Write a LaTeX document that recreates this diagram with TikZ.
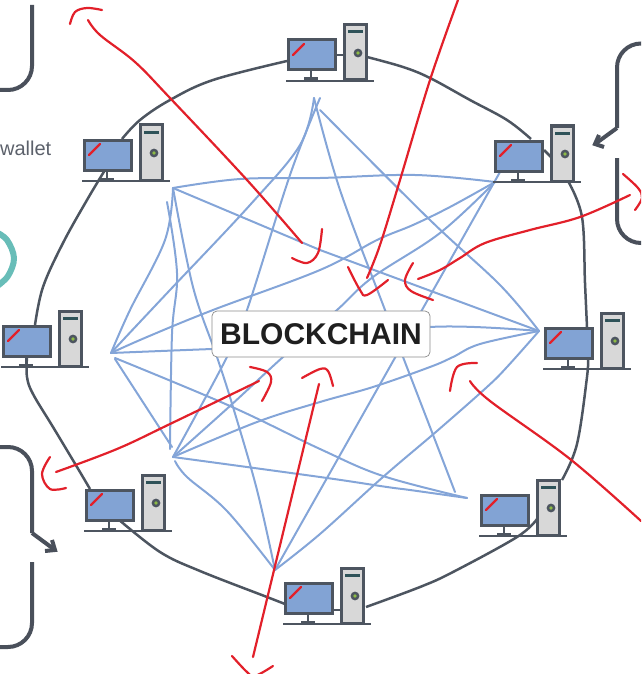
\documentclass[tikz,border=0pt]{standalone}
\usepackage{fontspec}
\setmainfont{Liberation Sans}
\usetikzlibrary{calc}
\definecolor{pcdark}{HTML}{4D5560}
\definecolor{screenblue}{HTML}{82A3D4}
\definecolor{towergrey}{HTML}{D8D8D8}
\definecolor{bartone}{HTML}{2F5359}
\definecolor{ledgreen}{HTML}{8DBB45}
\definecolor{wireblue}{HTML}{84A5D8}
\definecolor{redpen}{HTML}{E2202A}
\definecolor{tealring}{HTML}{68BDB8}
\definecolor{slate}{HTML}{4A505B}
\tikzset{
  bluewire/.style={draw=wireblue,line width=2pt,line cap=round},
  darkwire/.style={draw=pcdark,line width=2.5pt},
  redink/.style={draw=redpen,line width=2.2pt,line cap=round},
  bracketline/.style={draw=slate,line width=4pt,rounded corners=24pt},
  arrowstroke/.style={draw=slate,line width=4pt,miter limit=10},
  sm/.style={smooth,tension=0.6},
  computer/.pic={
    \draw[pcdark,line width=3pt,fill=screenblue] (1,1) rectangle (48,31);
    \draw[pcdark,line width=3pt,fill=towergrey] (57,-14) rectangle (79,41);
    \draw[pcdark,line width=2.8pt] (-1,42) -- (87,42);
    \draw[pcdark,line width=2.6pt] (24,32) -- (24,41);
    \draw[pcdark,line width=3pt] (17,40) -- (31,40);
    \draw[bartone,line width=3pt] (61,-7) -- (76,-7);
    \fill[pcdark] (71,14) circle[radius=4.4pt];
    \fill[ledgreen] (71,14) circle[radius=1.8pt];
    \draw[redpen,line width=2.2pt,line cap=round] (6,16) -- (17,5);
  },
}
\begin{document}
\begin{tikzpicture}[x=1pt,y=-1pt]
\clip (0,0) rectangle (641,674);
% hubs
\coordinate (hubT) at (314,98);
\coordinate (hubTb) at (320,110);
\coordinate (hubA) at (173,188);
\coordinate (hubAb) at (167,202);
\coordinate (hubB) at (495,182);
\coordinate (hubBm) at (500,172);
\coordinate (hubC) at (539,331);
\coordinate (hubD) at (111,353);
\coordinate (hubE) at (173,457);
\coordinate (hubF) at (467,498);
\coordinate (hubG) at (275,570);
% blue mesh
\draw[bluewire] plot[sm] coordinates {(hubT) (300,145) (250,205) (170,290) (123,340) (hubD)};
\draw[bluewire] plot[sm] coordinates {(320,98) (290,175) (247,310) (227,357) (hubE)};
\draw[bluewire] plot[sm] coordinates {(hubTb) (430,220) (500,285) (hubC)};
\draw[bluewire] plot[sm] coordinates {(hubT) (340,190) (385,310) (403,357) (435,440) (455,492)};
\draw[bluewire] plot[sm] coordinates {(hubA) (240,179) (320,178) (415,175) (hubB)};
\draw[bluewire] (hubA) -- (320,250) -- (hubC);
\draw[bluewire] plot[sm] coordinates {(hubA) (165,240) (130,310) (hubD)};
\draw[bluewire] plot[sm] coordinates {(hubAb) (177,273) (172,334) (170,449)};
\draw[bluewire] plot[sm] coordinates {(hubA) (193,287) (217,357) (233,407) (257,490) (hubG)};
\draw[bluewire] plot[sm] coordinates {(hubB) (450,207) (413,225) (377,240) (320,270) (213,310) (147,337) (hubD)};
\draw[bluewire] plot[sm] coordinates {(hubB) (440,233) (373,277) (337,310) (283,357) (230,406) (hubE)};
\draw[bluewire] (hubBm) -- (hubG);
\draw[bluewire] plot[sm] coordinates {(hubD) (212,349) (320,345) (430,327) (hubC)};
\draw[bluewire] plot[sm] coordinates {(hubC) (480,344) (453,357) (430,367) (373,387) (320,402) (257,422) (hubE)};
\draw[bluewire] plot[sm] coordinates {(hubC) (507,367) (487,387) (437,431) (383,477) (320,534) (hubG)};
\draw[bluewire] plot[sm] coordinates {(115,358) (230,406) (320,449) (383,476) (hubF)};
\draw[bluewire] (115,359) -- (172,447);
\draw[bluewire] plot[sm] coordinates {(hubE) (320,477) (387,487) (410,490) (hubF)};
\draw[bluewire] plot[sm] coordinates {(175,461) (187,477) (227,511) (hubG)};
% computers' connector ends
\coordinate (topL) at (287,61);
\coordinate (topR) at (367,57);
\coordinate (trT) at (531,139);
\coordinate (trB) at (568,181);
\coordinate (rT) at (587,327);
\coordinate (rB) at (588,357);
\coordinate (lrT) at (562,480);
\coordinate (lrL) at (537,519);
\coordinate (boR) at (366,607);
\coordinate (boL) at (285,604);
\coordinate (llB) at (118,519);
\coordinate (llT) at (90,489);
\coordinate (lB) at (27,357);
\coordinate (lT) at (35,325);
\coordinate (ltB) at (105,170);
\coordinate (ltT) at (122,139);
% connectors
\draw[darkwire] plot[sm] coordinates {(topL) (213,80) (170,100) (140,120) (ltT)};
\draw[darkwire] plot[sm] coordinates {(topR) (403,67) (430,78) (470,100) (507,120) (trT)};
\draw[darkwire] plot[sm] coordinates {(trB) (582,217) (585,283) (rT)};
\draw[darkwire] plot[sm] coordinates {(rB) (587,377) (577,444) (lrT)};
\draw[darkwire] plot[sm] coordinates {(lrL) (517,537) (453,572) (420,587) (boR)};
\draw[darkwire] plot[sm] coordinates {(boL) (267,597) (200,571) (160,552) (llB)};
\draw[darkwire] plot[sm] coordinates {(llT) (77,467) (53,427) (33,394) (27,377) (lB)};
\draw[darkwire] plot[sm] coordinates {(lT) (43,287) (63,243) (87,200) (ltB)};
\draw[darkwire] (336,55) -- (343,55);
\draw[darkwire] (333,610) -- (341,610);
\draw[darkwire] (544,150) -- (551,157);
% computers
\pic at (287,39) {computer};
\pic at (494,140) {computer};
\pic at (83,139) {computer};
\pic at (2,325) {computer};
\pic at (85,489) {computer};
\pic at (284,582) {computer};
\pic at (480,494) {computer};
\pic at (544,327) {computer};
% label box
\node[draw=black!45,fill=white,line width=0.7pt,rounded corners=5pt,minimum width=218pt,minimum height=46pt,inner sep=0pt,font=\bfseries\fontsize{30}{30}\selectfont,text=black!88] (chain) at (321,334) {BLOCKCHAIN};
\node[anchor=east,inner sep=0pt,font=\fontsize{20}{20}\selectfont,text=slate!90] (walletlabel) at (51.5,148) {wallet};
% brackets
\draw[bracketline] (32,5) -- (32,90) -- (-24,90);
\draw[bracketline] (665,43.5) -- (617,43.5) -- (617,128);
\draw[arrowstroke] (617,128) -- (595,144);
\draw[arrowstroke] (599,135) -- (595,144) -- (604,147);
\draw[bracketline] (617,158) -- (617,243) -- (665,243);
\draw[bracketline] (-24,447) -- (32,447) -- (32,533);
\draw[arrowstroke] (32,533) -- (55,550);
\draw[arrowstroke] (52,540) -- (55,550) -- (45,551);
\draw[bracketline] (32,562) -- (32,647) -- (-24,647);
\draw[tealring,line width=6pt] plot[sm] coordinates {(-4,232) (7,240) (14,258) (8,276) (-4,287)};
% red strokes
\draw[redink] plot[sm] coordinates {(70,24) (75,12) (87,8) (102,10)};
\draw[redink] plot[sm] coordinates {(88,20) (100,35) (135,62) (170,98) (247,180) (302,243)};
\draw[redink] plot[sm] coordinates {(292,258) (307,263) (318,253) (322,229)};
\draw[redink] plot[sm] coordinates {(458,0) (430,80) (400,180) (380,245) (367,278)};
\draw[redink] plot[sm] coordinates {(348,267) (360,290) (367,295) (388,280)};
\draw[redink] plot[sm] coordinates {(413,263) (405,280) (411,291) (433,300)};
\draw[redink] plot[sm] coordinates {(418,279) (440,270) (460,258) (485,243) (530,230) (580,217) (630,195)};
\draw[redink] plot[sm] coordinates {(623,174) (638,188) (642,198) (635,210)};
\draw[redink] plot[sm] coordinates {(477,363) (457,367) (450,391)};
\draw[redink] plot[sm] coordinates {(470,381) (490,401) (570,459) (641,521)};
\draw[redink] plot[sm] coordinates {(302,378) (320,369) (328,371) (333,386)};
\draw[redink] (319,384) -- (253,657);
\draw[redink] plot[sm] coordinates {(232,656) (247,672) (255,676) (273,666)};
\draw[redink] plot[sm] coordinates {(250,367) (267,372) (271,382) (262,401)};
\draw[redink] plot[sm] coordinates {(259,381) (170,424) (117,449) (56,472)};
\draw[redink] plot[sm] coordinates {(50,457) (42,474) (50,489) (66,488)};
\end{tikzpicture}
\end{document}
